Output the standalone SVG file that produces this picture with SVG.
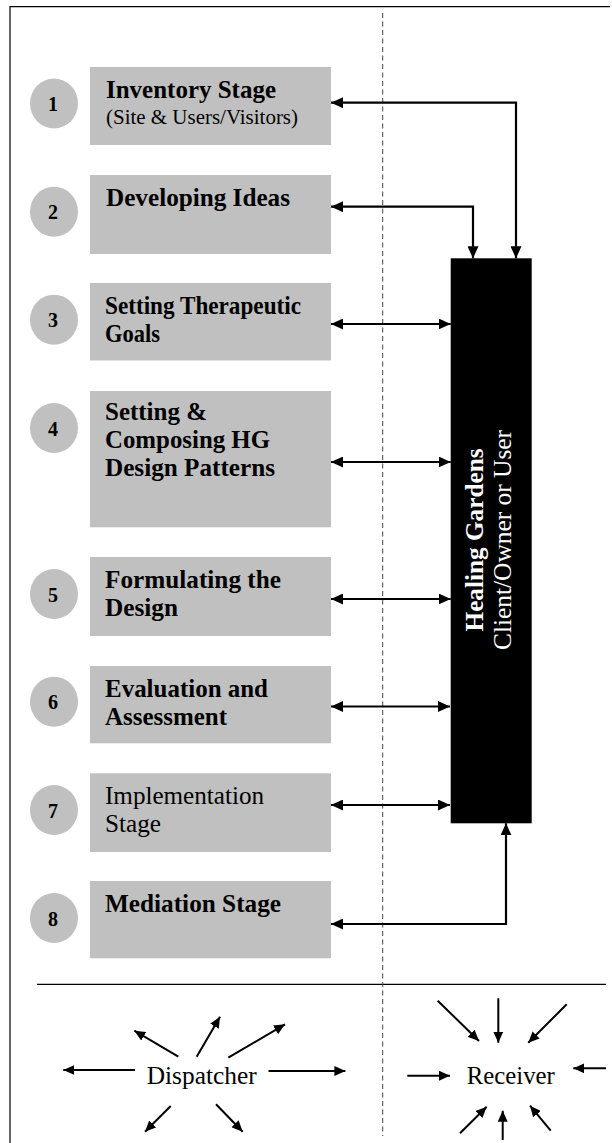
<svg xmlns="http://www.w3.org/2000/svg" width="612" height="1143" viewBox="0 0 612 1143">
<style>
.box{fill:#c0c0c0}
.circ{fill:#c0c0c0}
.t{font-family:"Liberation Serif","Times New Roman",serif;fill:#000}
.b{font-weight:bold;font-size:25px}
.r{font-size:25px}
.sub{font-size:22px}
.num{font-family:"Liberation Serif","Times New Roman",serif;font-weight:bold;font-size:20px;text-anchor:middle}
.con{fill:none;stroke:#000;stroke-width:2.2}
.sm{fill:none;stroke:#000;stroke-width:2}
.w{fill:#fff;font-family:"Liberation Serif","Times New Roman",serif;font-size:25px;text-anchor:middle}
</style>
<defs>
<marker id="ah" markerUnits="userSpaceOnUse" markerWidth="12" markerHeight="11" refX="12" refY="5.5" orient="auto-start-reverse">
<path d="M0,0 L12,5.5 L0,11 z" fill="#000"/>
</marker>
<marker id="sh" markerUnits="userSpaceOnUse" markerWidth="11" markerHeight="10" refX="11" refY="5" orient="auto">
<path d="M0,0 L11,5 L0,10 z" fill="#000"/>
</marker>
</defs>
<rect width="612" height="1143" fill="#fff"/>
<g id="frame">
<path d="M10,1143 V6.7 H610" fill="none" stroke="#000" stroke-width="1.2"/>
<path d="M37,984.3 H606" fill="none" stroke="#000" stroke-width="1.2"/>
<path d="M382.7,13 V1136" fill="none" stroke="#444" stroke-width="1" stroke-dasharray="5,3.5"/>
</g>
<g id="stage1">
<ellipse class="circ" cx="54" cy="103.5" rx="24" ry="25"/>
<text class="num" x="53" y="111">1</text>
<rect class="box" x="90" y="67" width="241" height="78"/>
<text class="t b" x="106" y="98" textLength="170" lengthAdjust="spacingAndGlyphs">Inventory Stage</text>
<text class="t sub" x="106" y="124" textLength="192" lengthAdjust="spacingAndGlyphs">(Site &amp; Users/Visitors)</text>
</g>
<g id="stage2">
<ellipse class="circ" cx="54" cy="211.7" rx="24" ry="25"/>
<text class="num" x="53" y="219">2</text>
<rect class="box" x="90" y="175" width="241" height="79"/>
<text class="t b" x="106" y="206" textLength="184" lengthAdjust="spacingAndGlyphs">Developing Ideas</text>
</g>
<g id="stage3">
<ellipse class="circ" cx="54" cy="319.7" rx="24" ry="25"/>
<text class="num" x="53" y="327">3</text>
<rect class="box" x="90" y="283" width="241" height="77.5"/>
<text class="t b" x="105" y="314" textLength="196" lengthAdjust="spacingAndGlyphs">Setting Therapeutic</text>
<text class="t b" x="105" y="342" textLength="55" lengthAdjust="spacingAndGlyphs">Goals</text>
</g>
<g id="stage4">
<ellipse class="circ" cx="54" cy="428" rx="24" ry="25"/>
<text class="num" x="53" y="435.5">4</text>
<rect class="box" x="90" y="391" width="241" height="136.3"/>
<text class="t b" x="105" y="420" textLength="102" lengthAdjust="spacingAndGlyphs">Setting &amp;</text>
<text class="t b" x="105" y="448" textLength="165" lengthAdjust="spacingAndGlyphs">Composing HG</text>
<text class="t b" x="105" y="476" textLength="170" lengthAdjust="spacingAndGlyphs">Design Patterns</text>
</g>
<g id="stage5">
<ellipse class="circ" cx="54" cy="594" rx="24" ry="25"/>
<text class="num" x="53" y="601.5">5</text>
<rect class="box" x="90" y="557" width="241" height="79"/>
<text class="t b" x="105" y="588" textLength="176" lengthAdjust="spacingAndGlyphs">Formulating the</text>
<text class="t b" x="105" y="616" textLength="73" lengthAdjust="spacingAndGlyphs">Design</text>
</g>
<g id="stage6">
<ellipse class="circ" cx="54" cy="701.7" rx="24" ry="25"/>
<text class="num" x="53" y="709">6</text>
<rect class="box" x="90" y="666" width="241" height="77.3"/>
<text class="t b" x="105" y="697" textLength="163" lengthAdjust="spacingAndGlyphs">Evaluation and</text>
<text class="t b" x="105" y="725" textLength="122" lengthAdjust="spacingAndGlyphs">Assessment</text>
</g>
<g id="stage7">
<ellipse class="circ" cx="54" cy="810" rx="24" ry="25"/>
<text class="num" x="53" y="817.5">7</text>
<rect class="box" x="90" y="773.3" width="241" height="78.7"/>
<text class="t r" x="105" y="804" textLength="159" lengthAdjust="spacingAndGlyphs">Implementation</text>
<text class="t r" x="105" y="832" textLength="56" lengthAdjust="spacingAndGlyphs">Stage</text>
</g>
<g id="stage8">
<ellipse class="circ" cx="54" cy="918" rx="24" ry="25"/>
<text class="num" x="53" y="925.5">8</text>
<rect class="box" x="90" y="881" width="241" height="77.3"/>
<text class="t b" x="105" y="912" textLength="176" lengthAdjust="spacingAndGlyphs">Mediation Stage</text>
</g>
<g id="healing-gardens">
<rect x="450.7" y="258.3" width="81" height="565" fill="#000"/>
<text class="w" font-weight="bold" transform="translate(482.5,540) rotate(-90)" textLength="183" lengthAdjust="spacingAndGlyphs">Healing Gardens</text>
<text class="w" transform="translate(511,540) rotate(-90)" textLength="220" lengthAdjust="spacingAndGlyphs">Client/Owner or User</text>
</g>
<g id="connectors">
<path class="con" d="M331,102.7 H516 V258.3" marker-start="url(#ah)" marker-end="url(#ah)"/>
<path class="con" d="M331,206.7 H473 V258.3" marker-start="url(#ah)" marker-end="url(#ah)"/>
<path class="con" d="M331,324 H450.7" marker-start="url(#ah)" marker-end="url(#ah)"/>
<path class="con" d="M331,462 H450.7" marker-start="url(#ah)" marker-end="url(#ah)"/>
<path class="con" d="M331,599 H450.7" marker-start="url(#ah)" marker-end="url(#ah)"/>
<path class="con" d="M331,706.5 H450" marker-start="url(#ah)" marker-end="url(#ah)"/>
<path class="con" d="M331,805 H450" marker-start="url(#ah)" marker-end="url(#ah)"/>
<path class="con" d="M331,924 H506 V823.3" marker-start="url(#ah)" marker-end="url(#ah)"/>
</g>
<g id="dispatcher">
<text class="t" x="201.7" y="1084" font-size="26" text-anchor="middle" textLength="110" lengthAdjust="spacingAndGlyphs">Dispatcher</text>
<path class="sm" d="M135,1070 L63.3,1070" marker-end="url(#sh)"/>
<path class="sm" d="M268.5,1071 L345.4,1071" marker-end="url(#sh)"/>
<path class="sm" d="M178.3,1056.7 L134.3,1030.7" marker-end="url(#sh)"/>
<path class="sm" d="M196.7,1056.7 L220,1016.7" marker-end="url(#sh)"/>
<path class="sm" d="M228.3,1057.7 L285,1024.3" marker-end="url(#sh)"/>
<path class="sm" d="M170.7,1106 L145,1131.7" marker-end="url(#sh)"/>
<path class="sm" d="M216,1104.3 L242.7,1131.7" marker-end="url(#sh)"/>
</g>
<g id="receiver">
<text class="t" x="510.8" y="1084" font-size="26" text-anchor="middle" textLength="88" lengthAdjust="spacingAndGlyphs">Receiver</text>
<path class="sm" d="M407.3,1075.7 L450,1075.7" marker-end="url(#sh)"/>
<path class="sm" d="M606,1068.3 L573.3,1068.3" marker-end="url(#sh)"/>
<path class="sm" d="M437.7,1000.7 L479,1041" marker-end="url(#sh)"/>
<path class="sm" d="M498.3,998.3 L498.3,1042.7" marker-end="url(#sh)"/>
<path class="sm" d="M566.7,1004.3 L528.3,1042.7" marker-end="url(#sh)"/>
<path class="sm" d="M460,1133.3 L486.7,1106.7" marker-end="url(#sh)"/>
<path class="sm" d="M502.7,1140 L502.7,1110.7" marker-end="url(#sh)"/>
<path class="sm" d="M550.7,1130.7 L530,1105.7" marker-end="url(#sh)"/>
</g>
</svg>
